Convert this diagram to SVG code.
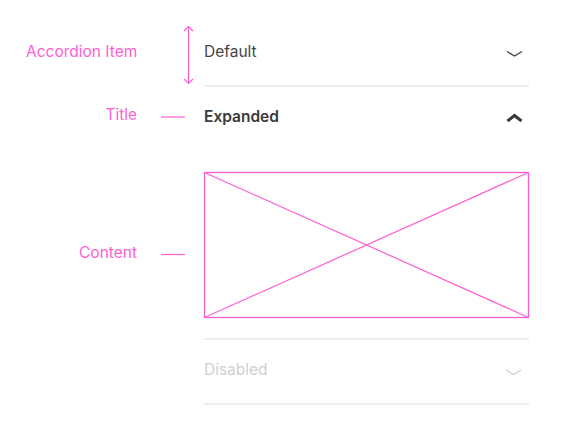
<svg xmlns="http://www.w3.org/2000/svg" width="565" height="424" viewBox="0 0 565 424">
<style>
.lbl{font-family:Inter,"Liberation Sans",sans-serif;font-size:15.5px;fill:#ff5fd2}
.pk{stroke:#ff5fd2;stroke-width:1.2;fill:none}
.t{font-family:Inter,"Liberation Sans",sans-serif;font-size:15.5px}
.div{stroke:#e8e8e8;stroke-width:1.5}
</style>
<rect width="565" height="424" fill="#fff"/>
<g id="annotations">
<text class="lbl" x="26" y="57">Accordion Item</text>
<text class="lbl" x="137" y="120" text-anchor="end">Title</text>
<text class="lbl" x="137" y="258" text-anchor="end">Content</text>
</g>
<g id="connectors">
<line class="pk" x1="188.5" y1="27" x2="188.5" y2="83"/>
<polyline class="pk" points="184,31 188.5,26.5 193,31"/>
<polyline class="pk" points="184,79 188.5,83.5 193,79"/>
<line class="pk" x1="161" y1="117" x2="185" y2="117"/>
<line class="pk" x1="161" y1="254.5" x2="185" y2="254.5"/>
</g>
<g id="item-default">
<text class="t" x="204" y="57" fill="#444">Default</text>
<polyline points="507,51.5 514.5,56 522,51.5" fill="none" stroke="#444" stroke-width="1.4"/>
<line class="div" x1="204" y1="86" x2="529" y2="86"/>
</g>
<g id="item-expanded">
<text class="t" x="204" y="122" fill="#3a3a3a" font-weight="600">Expanded</text>
<polyline points="507.5,121 514.5,115.5 521.5,121" fill="none" stroke="#3a3a3a" stroke-width="3" stroke-linejoin="miter"/>
</g>
<g id="content">
<rect x="204.5" y="172.5" width="324" height="145" fill="none" stroke="#ff5fd2" stroke-width="1.3"/>
<line class="pk" x1="204.5" y1="172.5" x2="528.5" y2="317.5"/>
<line class="pk" x1="204.5" y1="317.5" x2="528.5" y2="172.5"/>
</g>
<g id="item-disabled">
<line class="div" x1="204" y1="339" x2="529" y2="339"/>
<text class="t" x="204" y="375" fill="#cfcfcf">Disabled</text>
<polyline points="506,370 513.5,374.5 521,370" fill="none" stroke="#d0d0d0" stroke-width="1.3"/>
<line class="div" x1="204" y1="404" x2="529" y2="404"/>
</g>
</svg>
